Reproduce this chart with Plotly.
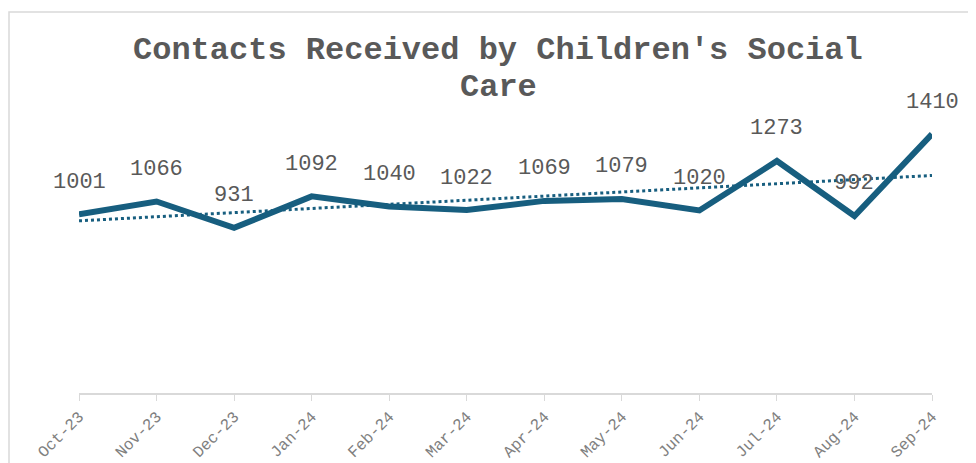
import numpy as np
import plotly.graph_objects as go

months = ["Oct-23", "Nov-23", "Dec-23", "Jan-24", "Feb-24", "Mar-24",
          "Apr-24", "May-24", "Jun-24", "Jul-24", "Aug-24", "Sep-24"]
contacts = [1001, 1066, 931, 1092, 1040, 1022, 1069, 1079, 1020, 1273, 992, 1410]
title_lines = ["Contacts Received by Children's Social", "Care"]

LINE = "#175e7f"
FONT = "Liberation Mono, Courier New, monospace"

# page body has an 8px margin; figure is sized/placed to compensate
W, H = 968, 455
L, R, T, B = 71, 44, 89, 70
PW, PH = W - L - R, H - T - B

idx = np.arange(len(months))
slope, intercept = np.polyfit(idx, contacts, 1)
trend = slope * idx + intercept

fig = go.Figure()
fig.add_trace(go.Scatter(x=idx, y=trend, mode="lines",
                         line=dict(color=LINE, width=3, dash="dot"),
                         hoverinfo="skip", showlegend=False))
fig.add_trace(go.Scatter(x=idx, y=contacts, mode="lines",
                         line=dict(color=LINE, width=6),
                         showlegend=False))

for i, v in zip(idx, contacts):
    fig.add_annotation(x=i, y=v, text=str(v), showarrow=False,
                       yanchor="middle", yshift=32,
                       font=dict(family=FONT, size=22, color="#595959"))

for line_text, cy in zip(title_lines, [42, 79]):
    fig.add_annotation(xref="paper", yref="paper", x=(490 - L) / PW, y=(H - B - cy) / PH,
                       text="<b>" + line_text + "</b>",
                       showarrow=False, xanchor="center", yanchor="middle",
                       font=dict(family=FONT, size=32, color="#595959"))

fig.add_shape(type="rect", xref="paper", yref="paper",
              x0=(1 - L) / PW, x1=(1000 - L) / PW,
              y0=(H - B - 500) / PH, y1=(H - B - 4) / PH,
              line=dict(color="#d9d9d9", width=1.5), layer="below")

fig.update_xaxes(range=[0, 11], tickmode="array", tickvals=idx, ticktext=months,
                 tickangle=-45, showgrid=False, zeroline=False,
                 showline=True, linecolor="#d9d9d9", linewidth=1.5,
                 ticks="outside", ticklen=6, tickcolor="#d9d9d9",
                 tickfont=dict(family=FONT, size=16, color="#808080"))
fig.update_yaxes(range=[87, 1600], visible=False)

fig.update_layout(width=W, height=H, paper_bgcolor="white", plot_bgcolor="white",
                  margin=dict(l=L, r=R, t=T, b=B, autoexpand=False))

fig.write_html("out.html")
